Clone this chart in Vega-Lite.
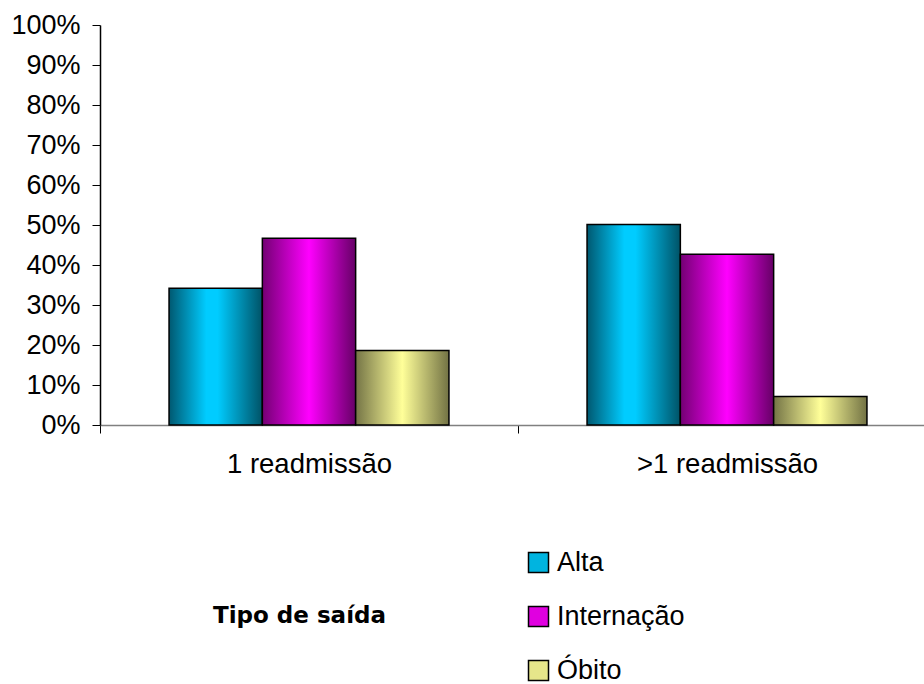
{
  "$schema": "https://vega.github.io/schema/vega-lite/v6.json",
  "autosize": {"type": "none"},
  "padding": {"left": 100, "top": 25, "right": 0, "bottom": 259},
  "width": 824,
  "height": 400,
  "background": "white",
  "config": {
    "view": {"stroke": null},
    "font": "Liberation Sans"
  },
  "data": {
    "values": [
      {"grupo": "1 readmissão", "tipo": "Alta", "pct": 0.342},
      {"grupo": "1 readmissão", "tipo": "Internação", "pct": 0.467},
      {"grupo": "1 readmissão", "tipo": "Óbito", "pct": 0.186},
      {"grupo": ">1 readmissão", "tipo": "Alta", "pct": 0.501},
      {"grupo": ">1 readmissão", "tipo": "Internação", "pct": 0.427},
      {"grupo": ">1 readmissão", "tipo": "Óbito", "pct": 0.071}
    ]
  },
  "mark": {"type": "bar", "stroke": "black", "strokeWidth": 1.5, "opacity": 1},
  "encoding": {
    "x": {
      "field": "grupo",
      "type": "nominal",
      "sort": ["1 readmissão", ">1 readmissão"],
      "scale": {"range": [0, 836], "paddingInner": 0, "paddingOuter": 0},
      "axis": {
        "title": null,
        "labelAngle": 0,
        "labelFontSize": 27.5,
        "labelLimit": 400,
        "labelColor": "black",
        "labelPadding": 17,
        "domainColor": "#808080",
        "domainWidth": 1.5,
        "tickColor": "black",
        "tickSize": 8,
        "tickBand": "extent",
        "grid": false
      }
    },
    "xOffset": {
      "field": "tipo",
      "type": "nominal",
      "sort": ["Alta", "Internação", "Óbito"],
      "scale": {"paddingInner": 0, "paddingOuter": 0.74}
    },
    "y": {
      "field": "pct",
      "type": "quantitative",
      "scale": {"domain": [0, 1], "nice": false},
      "axis": {
        "title": null,
        "values": [0, 0.1, 0.2, 0.3, 0.4, 0.5, 0.6, 0.7, 0.8, 0.9, 1],
        "format": ".0%",
        "labelFontSize": 27,
        "labelColor": "black",
        "labelPadding": 12,
        "domainColor": "black",
        "domainWidth": 1.5,
        "tickColor": "black",
        "tickSize": 8,
        "grid": false
      }
    },
    "fill": {
      "condition": [
        {"test": "datum.tipo === 'Alta'", "value": {"gradient": "linear", "x1": 0, "y1": 0, "x2": 1, "y2": 0, "stops": [
          {"offset": 0, "color": "#005870"},
          {"offset": 0.4, "color": "#00ccff"},
          {"offset": 0.52, "color": "#00ccff"},
          {"offset": 1, "color": "#005266"}
        ]}},
        {"test": "datum.tipo === 'Internação'", "value": {"gradient": "linear", "x1": 0, "y1": 0, "x2": 1, "y2": 0, "stops": [
          {"offset": 0, "color": "#730073"},
          {"offset": 0.5, "color": "#ff00ff"},
          {"offset": 1, "color": "#660066"}
        ]}},
        {"test": "datum.tipo === 'Óbito'", "value": {"gradient": "linear", "x1": 0, "y1": 0, "x2": 1, "y2": 0, "stops": [
          {"offset": 0, "color": "#747446"},
          {"offset": 0.5, "color": "#ffff99"},
          {"offset": 1, "color": "#727244"}
        ]}}
      ],
      "field": "tipo",
      "type": "nominal",
      "sort": ["Alta", "Internação", "Óbito"],
      "scale": {
        "domain": ["Alta", "Internação", "Óbito"],
        "range": ["#00b4e0", "#e000e0", "#e6e68a"]
      },
      "legend": {
        "orient": "none",
        "legendX": 113,
        "legendY": 524,
        "direction": "vertical",
        "title": "Tipo de saída",
        "titleOrient": "left",
        "titleAnchor": "middle",
        "titleBaseline": "middle",
        "titleFont": "DejaVu Sans",
        "titleFontSize": 23,
        "titleFontWeight": "bold",
        "titleColor": "black",
        "titlePadding": 139,
        "symbolType": "square",
        "symbolSize": 400,
        "symbolStrokeColor": "black",
        "symbolStrokeWidth": 1.5,
        "symbolOpacity": 1,
        "labelFontSize": 27,
        "labelLimit": 400,
        "labelColor": "black",
        "labelOffset": 5,
        "rowPadding": 26
      }
    }
  }
}
